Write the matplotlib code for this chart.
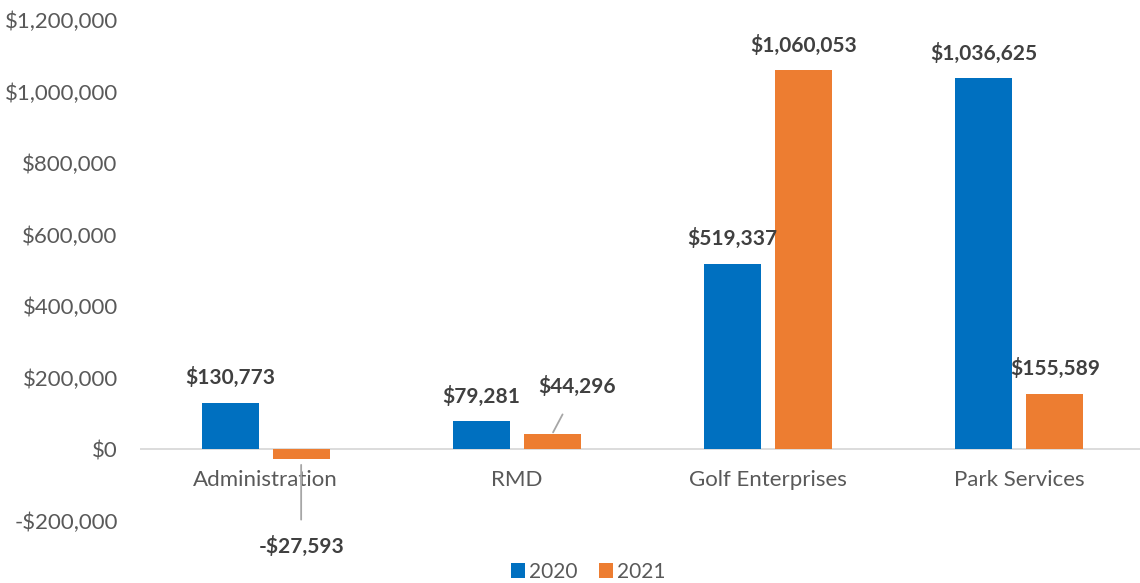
import matplotlib.pyplot as plt
import numpy as np
from matplotlib.ticker import FuncFormatter

plt.rcParams['font.family'] = ['Lato', 'DejaVu Sans']

categories = ['Administration', 'RMD', 'Golf Enterprises', 'Park Services']
years = ['2020', '2021']
values_2020 = [130773, 79281, 519337, 1036625]
values_2021 = [-27593, 44296, 1060053, 155589]
y_ticks = [-200000, 0, 200000, 400000, 600000, 800000, 1000000, 1200000]

blue = '#0070C0'
orange = '#ED7D31'
tick_grey = '#595959'
label_grey = '#404040'


def money(v, pos=None):
    v = int(round(v))
    if v < 0:
        return '-${:,}'.format(-v)
    return '${:,}'.format(v)


fig = plt.figure(figsize=(11.4, 5.83), dpi=100)
ax = fig.add_axes([0.1228, 0.1063, 0.8772, 0.8594])

x = np.arange(len(categories))
width = 0.227
offset = 0.1414

bars_a = ax.bar(x - offset, values_2020, width, color=blue, label=years[0], zorder=3)
bars_b = ax.bar(x + offset, values_2021, width, color=orange, label=years[1], zorder=3)

ax.set_xlim(-0.5, 3.48)
ax.set_ylim(-200000, 1200000)
ax.set_yticks(y_ticks)
ax.yaxis.set_major_formatter(FuncFormatter(money))
ax.set_xticks([])
ax.tick_params(axis='both', length=0, labelsize=16, colors=tick_grey)
ax.tick_params(axis='y', pad=16)
for s in ax.spines.values():
    s.set_visible(False)
ax.axhline(0, color='#D9D9D9', lw=1.3, zorder=2)

# category labels sit just under the zero line
for xi, name in zip(x, categories):
    ax.annotate(name, (xi, 0), xytext=(0, -22), textcoords='offset points',
                ha='center', va='center', fontsize=16, color=tick_grey)

lab_kw = dict(ha='center', va='center', fontsize=15, fontweight='bold', color=label_grey,
              textcoords='offset points')

for b, v in zip(bars_a, values_2020):
    ax.annotate(money(v), (b.get_x() + b.get_width() / 2, v), xytext=(0, 18), **lab_kw)

for i, (b, v) in enumerate(zip(bars_b, values_2021)):
    cx = b.get_x() + b.get_width() / 2
    if v < 0:
        ax.annotate(money(v), (cx, v), xytext=(0, -63), **lab_kw,
                    arrowprops=dict(arrowstyle='-', color='#A6A6A6', lw=1.3,
                                    shrinkA=10, shrinkB=4))
    elif categories[i] == 'RMD':
        ax.annotate(money(v), (cx, v), xytext=(18, 34), **lab_kw,
                    arrowprops=dict(arrowstyle='-', color='#A6A6A6', lw=1.3,
                                    shrinkA=12, shrinkB=1))
    else:
        ax.annotate(money(v), (cx, v), xytext=(0, 18), **lab_kw)

fig.legend(loc='lower center', bbox_to_anchor=(0.516, -0.03), ncol=2, frameon=False,
           fontsize=15, labelcolor=tick_grey, handlelength=0.7, handleheight=0.7,
           handletextpad=0.2, columnspacing=1.0)

fig.savefig('out.png', dpi=100)
